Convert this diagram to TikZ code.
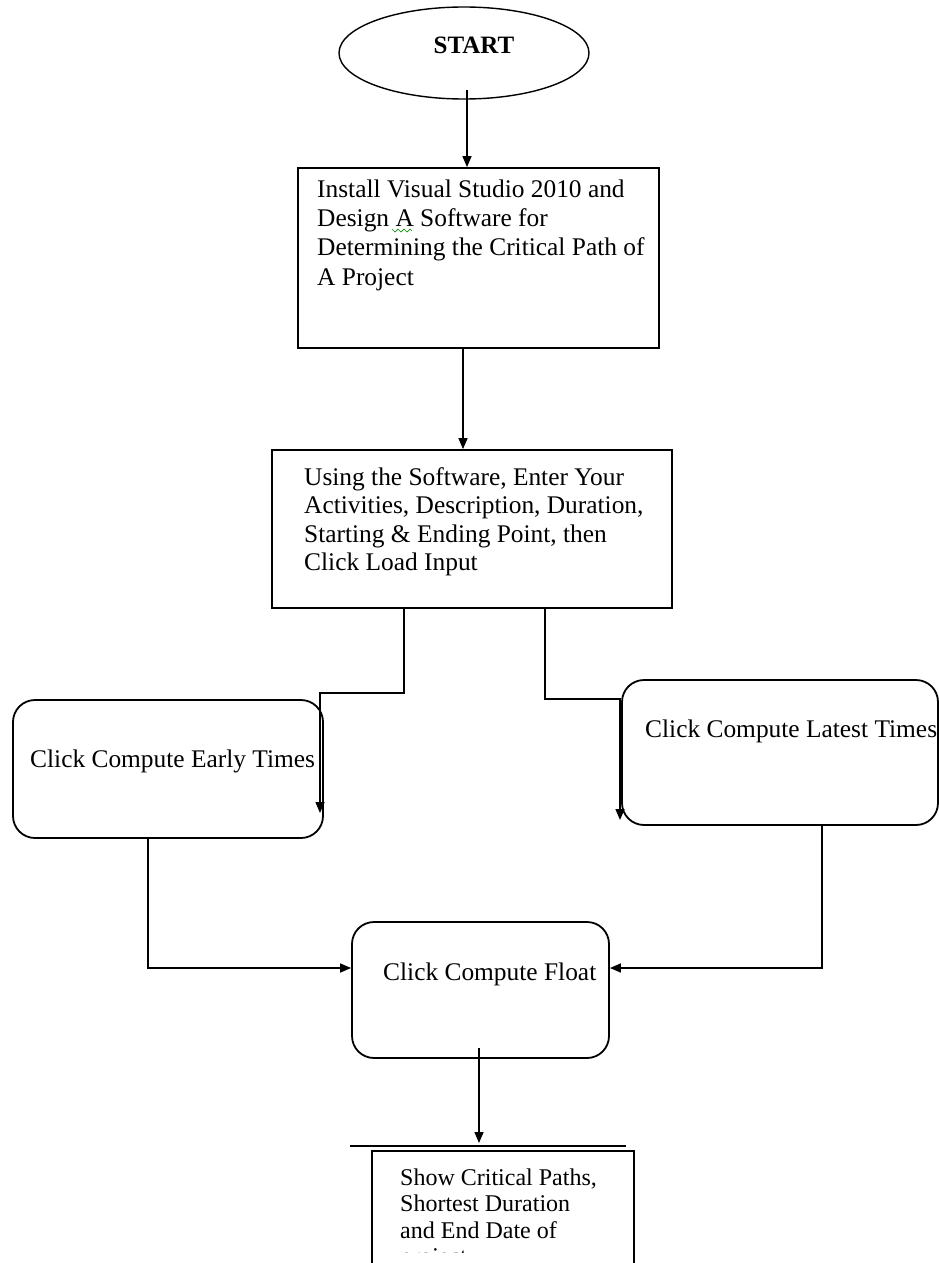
\documentclass[tikz,border=0pt]{standalone}
\usepackage{fontspec}
\setmainfont{Liberation Serif}
\usetikzlibrary{shapes.geometric,arrows.meta}
\begin{document}
\begin{tikzpicture}[x=1pt,y=-1pt,
  box/.style={draw, line width=1.8pt, inner sep=0pt},
  rbox/.style={box, rounded corners=22pt},
  txt/.style={inner sep=0pt, align=left},
  ln/.style={line width=1.5pt},
  arr/.style={ln, -{Triangle[length=11pt,width=9pt]}}]
\useasboundingbox (0,0) rectangle (939,1263);
\clip (0,0) rectangle (939,1263);
% shapes
\node[ellipse, draw, line width=1.4pt, minimum width=250pt, minimum height=92pt, inner sep=0pt] (start) at (464,53) {};
\node[anchor=base, inner sep=0pt, font=\fontsize{25}{30}\selectfont\bfseries] (starttxt) at (474,54) {START};
\node[box, minimum width=361pt, minimum height=180pt] (b1) at (478.5,258) {};
\node[box, minimum width=400pt, minimum height=158pt] (b2) at (472,529) {};
\node[rbox, minimum width=310pt, minimum height=138pt] (early) at (168,769) {};
\node[rbox, minimum width=316pt, minimum height=145pt] (latest) at (780,752.5) {};
\node[rbox, minimum width=257pt, minimum height=136pt] (fl) at (480.5,990) {};
\node[box, minimum width=262pt, minimum height=160pt] (last) at (503,1231) {};
% texts
\node[txt, anchor=north west, font=\fontsize{25.4}{29.3}\selectfont] (t1) at (317,179.5)
  {Install Visual Studio 2010 and\\Design A Software for\\Determining the Critical Path of\\A Project};
\draw[green!55!black, line width=0.7pt] (392,229) -- (395,232) -- (398,229) -- (401,232) -- (404,229) -- (407,232) -- (410,229) -- (412,231);
\node[txt, anchor=north west, font=\fontsize{25.4}{28.3}\selectfont] (t2) at (304,467.5)
  {Using the Software, Enter Your\\Activities, Description, Duration,\\Starting \& Ending Point, then\\Click Load Input};
\node[txt, anchor=base west, font=\fontsize{25.4}{30}\selectfont] (t3) at (30,767) {Click Compute Early Times};
\node[txt, anchor=base west, font=\fontsize{25.4}{30}\selectfont] (t4) at (645,737) {Click Compute Latest Times};
\node[txt, anchor=base west, font=\fontsize{25.4}{30}\selectfont] (t5) at (383,980) {Click Compute Float};
\begin{scope}
\clip (372,1151) rectangle (634,1252.5);
\node[txt, anchor=north west, font=\fontsize{24}{26.5}\selectfont] (t6) at (400,1168.4)
  {Show Critical Paths,\\Shortest Duration\\and End Date of\\project};
\end{scope}
% connectors
\coordinate (a1) at (467,90);
\draw[arr] (a1) -- (a1 |- b1.north);
\coordinate (x2) at (463,0);
\draw[arr] (x2 |- b1.south) -- (x2 |- b2.north);
\coordinate (k1) at (404,693);
\coordinate (e1) at (320,813);
\draw[arr] (k1 |- b2.south) -- (k1) -- (e1 |- k1) -- (e1);
\coordinate (k2) at (545,699);
\coordinate (e2) at (620,820);
\draw[arr] (k2 |- b2.south) -- (k2) -- (e2 |- k2) -- (e2);
\coordinate (yf) at (0,968);
\coordinate (x5) at (148,0);
\draw[arr] (x5 |- early.south) |- (fl.west |- yf);
\coordinate (x6) at (822,0);
\draw[arr] (x6 |- latest.south) |- (fl.east |- yf);
\coordinate (f2) at (479,1048);
\coordinate (f3) at (479,1143);
\draw[arr] (f2) -- (f3);
\coordinate (h1) at (350,1146);
\coordinate (h2) at (626,1146);
\draw[line width=1.2pt] (h1) -- (h2);
\end{tikzpicture}
\end{document}
